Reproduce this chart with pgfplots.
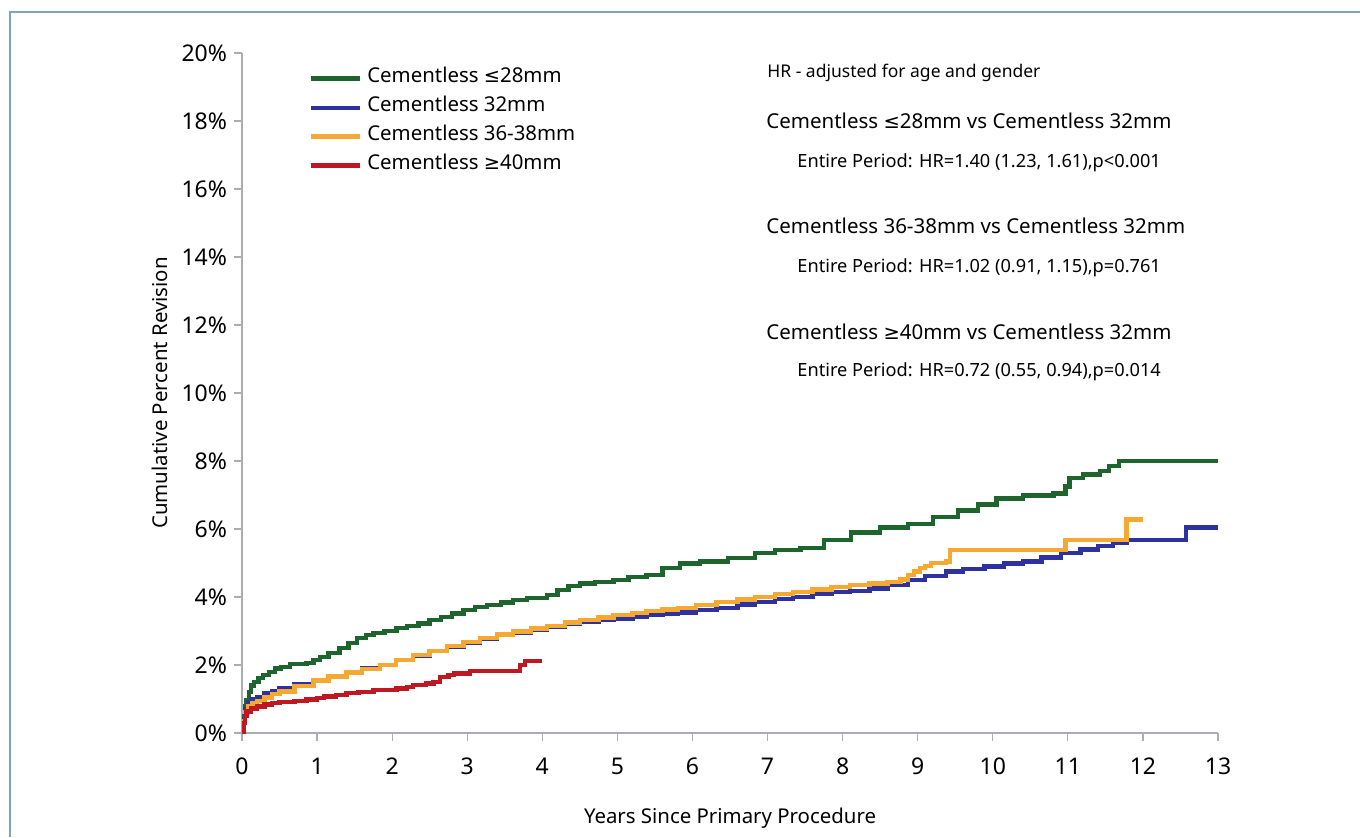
\documentclass[border=0pt]{standalone}
\usepackage{fontspec}
\setmainfont{Noto Sans}
\newfontfamily\symf{DejaVu Sans}
\newcommand{\leqs}{{\symf\addfontfeatures{Scale=0.95}≤}}
\newcommand{\geqs}{{\symf\addfontfeatures{Scale=0.95}≥}}
\usepackage{pgfplots}
\pgfplotsset{compat=1.18}
\definecolor{cgreen}{RGB}{30,100,45}
\definecolor{cblue}{RGB}{45,50,160}
\definecolor{cyellow}{RGB}{245,168,50}
\definecolor{cred}{RGB}{190,25,35}
\definecolor{framec}{RGB}{125,165,180}
\definecolor{axisc}{RGB}{170,172,182}
\begin{document}
\begin{tikzpicture}
\useasboundingbox (0pt,0pt) rectangle (680pt,418.5pt);
\draw[color=framec, line width=1pt] (5pt,0pt) -- (5pt,412.5pt) -- (680pt,412.5pt);
\begin{axis}[
  at={(121pt,52pt)}, anchor=south west,
  scale only axis, width=488pt, height=340pt,
  xmin=0, xmax=13, ymin=0, ymax=20,
  axis lines*=left,
  axis line style={color=axisc, line width=1.4pt},
  xtick={0,1,...,13}, ytick={0,2,...,20},
  tick align=outside, major tick length=4pt,
  tick style={color=axisc, line width=0.6pt},
  /pgf/number format/assume math mode=true,
  ticklabel style={font=\fontsize{11.5}{13}\selectfont},
  xticklabel style={yshift=-5pt},
  yticklabel={\pgfmathprintnumber{\tick}\%},
  xlabel={Years Since Primary Procedure},
  ylabel={Cumulative Percent Revision},
  label style={font=\fontsize{10.2}{12}\selectfont},
  xlabel style={yshift=-9.5pt},
  legend style={at={(axis description cs:0.062,0.99)}, anchor=north west, draw=none, fill=none,
    font=\fontsize{10.2}{12}\selectfont, row sep=0pt,
    nodes={inner sep=0pt, text height=9pt, text depth=5.5pt},
    /tikz/every odd column/.append style={column sep=2.5pt}},
  legend cell align=left,
  legend image code/.code={\draw[#1] (0pt,0pt) -- (24.5pt,0pt);},
  every axis plot/.append style={line width=2.2pt, const plot, line join=miter},
]
\addplot[cgreen] coordinates {
(0,0) (0.02,0.5) (0.04,0.8) (0.06,0.97) (0.09,1.2) (0.12,1.4) (0.16,1.5) (0.22,1.62)
(0.28,1.7) (0.36,1.8) (0.44,1.9) (0.52,1.95) (0.64,2.03) (0.86,2.06) (0.95,2.15)
(1.04,2.24) (1.15,2.35) (1.3,2.5) (1.42,2.65) (1.53,2.8) (1.65,2.88) (1.75,2.94)
(1.9,3.0) (2.06,3.08) (2.2,3.14) (2.35,3.22) (2.5,3.32) (2.65,3.42) (2.8,3.52)
(2.95,3.62) (3.1,3.7) (3.26,3.76) (3.45,3.84) (3.61,3.91) (3.8,3.97) (4.06,4.06)
(4.2,4.2) (4.35,4.32) (4.5,4.4) (4.7,4.45) (4.95,4.5) (5.15,4.58) (5.39,4.65)
(5.6,4.85) (5.83,4.98) (6.1,5.05) (6.47,5.15) (6.83,5.3) (7.1,5.38) (7.44,5.45)
(7.75,5.68) (8.11,5.9) (8.5,6.05) (8.87,6.15) (9.2,6.35) (9.54,6.55) (9.8,6.72)
(10.05,6.9) (10.4,6.98) (10.81,7.05) (10.97,7.25) (11.02,7.5) (11.2,7.6) (11.43,7.7)
(11.55,7.85) (11.68,8.0) (13,8.0)};
\addlegendentry{Cementless \leqs28mm}
\addplot[cblue] coordinates {
(0,0) (0.02,0.4) (0.04,0.7) (0.08,0.9) (0.14,1.0) (0.2,1.06) (0.3,1.16) (0.4,1.24)
(0.5,1.32) (0.7,1.44) (0.95,1.56) (1.15,1.68) (1.39,1.8) (1.6,1.9) (1.84,2.0)
(2.05,2.14) (2.28,2.28) (2.5,2.42) (2.73,2.54) (2.95,2.66) (3.17,2.78) (3.4,2.88)
(3.61,2.96) (3.85,3.04) (4.06,3.12) (4.3,3.2) (4.5,3.26) (4.75,3.32) (4.95,3.37)
(5.2,3.42) (5.39,3.47) (5.6,3.5) (5.81,3.55) (6.05,3.62) (6.32,3.68) (6.6,3.78)
(6.83,3.86) (7.1,3.94) (7.34,4.0) (7.6,4.08) (7.85,4.14) (8.1,4.18) (8.36,4.25)
(8.6,4.36) (8.87,4.5) (9.1,4.62) (9.38,4.75) (9.6,4.82) (9.89,4.9) (10.15,4.98)
(10.4,5.05) (10.65,5.16) (10.91,5.3) (11.17,5.4) (11.4,5.5) (11.6,5.6) (11.78,5.68)
(12.57,6.05) (13,6.05)};
\addlegendentry{Cementless 32mm}
\addplot[cyellow] coordinates {
(0,0) (0.02,0.35) (0.04,0.6) (0.08,0.78) (0.14,0.88) (0.2,0.95) (0.3,1.05) (0.4,1.14)
(0.5,1.22) (0.7,1.38) (0.95,1.54) (1.15,1.66) (1.39,1.78) (1.6,1.88) (1.84,2.0)
(2.05,2.14) (2.28,2.3) (2.5,2.42) (2.73,2.56) (2.95,2.68) (3.17,2.8) (3.4,2.9)
(3.61,2.99) (3.85,3.07) (4.06,3.15) (4.3,3.25) (4.5,3.32) (4.75,3.4) (4.95,3.47)
(5.2,3.53) (5.39,3.58) (5.6,3.63) (5.81,3.68) (6.05,3.76) (6.32,3.85) (6.6,3.93)
(6.83,4.0) (7.1,4.08) (7.34,4.15) (7.6,4.22) (7.85,4.3) (8.1,4.35) (8.36,4.4)
(8.6,4.45) (8.77,4.52) (8.87,4.65) (8.95,4.75) (9.03,4.85) (9.1,4.92) (9.18,5.0)
(9.38,5.05) (9.43,5.38) (10.97,5.68) (11.78,6.28) (12.0,6.28)};
\addlegendentry{Cementless 36-38mm}
\addplot[cred] coordinates {
(0,0) (0.02,0.3) (0.04,0.5) (0.06,0.63) (0.12,0.72) (0.2,0.78) (0.3,0.84) (0.4,0.88)
(0.5,0.92) (0.7,0.95) (0.86,0.98) (1.0,1.03) (1.09,1.07) (1.25,1.12) (1.39,1.17)
(1.55,1.21) (1.75,1.26) (2.06,1.31) (2.2,1.36) (2.28,1.41) (2.45,1.46) (2.55,1.5)
(2.64,1.65) (2.75,1.7) (2.82,1.75) (3.04,1.83) (3.7,2.0) (3.77,2.12) (3.99,2.12)};
\addlegendentry{Cementless \geqs40mm}
\end{axis}
\begin{scope}[every node/.style={inner sep=0pt, anchor=base west}]
\node[font=\fontsize{8.75}{11}\selectfont] at (383.5pt,379.85pt) {HR - adjusted for age and gender};
\node[font=\fontsize{10.25}{12}\selectfont] at (383pt,354.35pt) {Cementless \leqs28mm vs Cementless 32mm};
\node[font=\fontsize{9.1}{11}\selectfont] at (398.5pt,334.85pt) {Entire Period: HR=1.40 (1.23, 1.61),p<0.001};
\node[font=\fontsize{10.25}{12}\selectfont] at (383pt,301.85pt) {Cementless 36-38mm vs Cementless 32mm};
\node[font=\fontsize{9.1}{11}\selectfont] at (398.5pt,282.35pt) {Entire Period: HR=1.02 (0.91, 1.15),p=0.761};
\node[font=\fontsize{10.25}{12}\selectfont] at (383pt,248.85pt) {Cementless \geqs40mm vs Cementless 32mm};
\node[font=\fontsize{9.1}{11}\selectfont] at (398.5pt,230.15pt) {Entire Period: HR=0.72 (0.55, 0.94),p=0.014};
\end{scope}
\end{tikzpicture}
\end{document}
